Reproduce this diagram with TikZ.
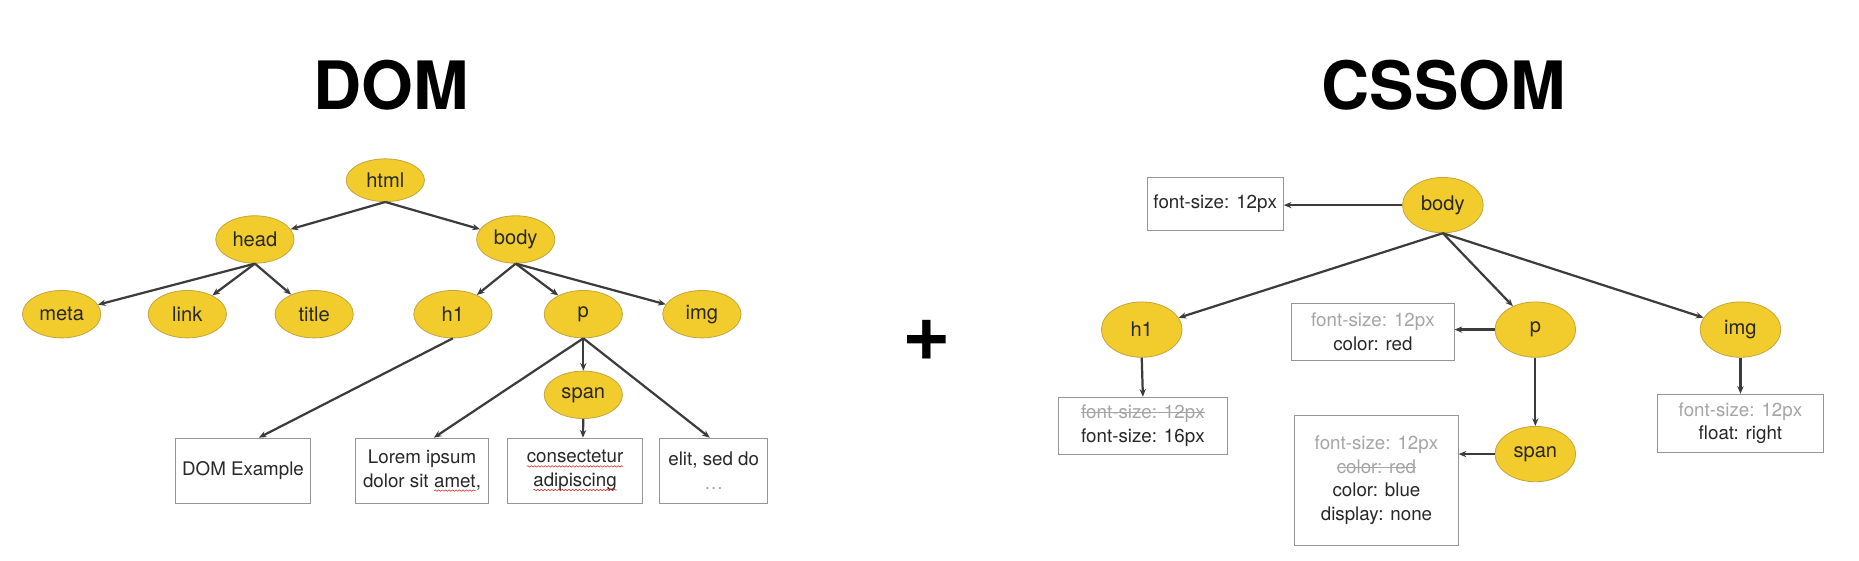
\documentclass[tikz,border=0pt]{standalone}
\usepackage{fontspec}
\setmainfont{TeX Gyre Heros}
\usetikzlibrary{arrows.meta,shapes.geometric,decorations.pathmorphing}
\definecolor{NodeClr}{RGB}{242,204,44}
\definecolor{NodeBorderClr}{RGB}{196,166,62}
\definecolor{LineClr}{RGB}{60,60,60}
\definecolor{BoxClr}{RGB}{150,150,150}
\definecolor{FadedClr}{RGB}{165,165,165}
\definecolor{TextClr}{RGB}{40,40,40}
\definecolor{SpellClr}{RGB}{220,40,40}
\newsavebox{\strikebox}
\newcommand{\faded}[1]{\textcolor{FadedClr}{#1}}
\newcommand{\overruled}[1]{\sbox{\strikebox}{\color{FadedClr}#1}\textcolor{FadedClr}{\rlap{\usebox{\strikebox}}\rule[0.3em]{\wd\strikebox}{0.6pt}}}
\newcommand{\spellwave}[1]{\tikz[baseline=(w.base)]{\node[inner sep=0pt,outer sep=0pt,draw=none,fill=none,text=TextClr,minimum size=0pt,shape=rectangle] (w) {#1};
  \draw[SpellClr,line width=0.4pt,-,decorate,decoration={snake,amplitude=0.5pt,segment length=2.5pt}] ([yshift=-2.5pt]w.base west) -- ([yshift=-2.5pt]w.base east);}}

\begin{document}
\begin{tikzpicture}[x=0.03cm,y=-0.03cm,
  domnode/.style={ellipse,draw=NodeBorderClr,fill=NodeClr,line width=0.6pt,
    minimum width=1.98cm,minimum height=1.2cm,inner sep=0pt,
    font=\fontsize{14.5}{16}\selectfont,text=TextClr},
  cssnode/.style={domnode,minimum width=2.04cm,minimum height=1.4cm},
  textbox/.style={draw=BoxClr,fill=white,line width=0.6pt,inner sep=0pt,
    align=center,font=\fontsize{13.5}{17}\selectfont,text=TextClr},
  edgeline/.style={draw=LineClr,line width=1.6pt,-{Stealth[length=5.5pt,width=4.5pt]}},
  heading/.style={font=\fontsize{48}{50}\selectfont\bfseries}]

\useasboundingbox (0,0) rectangle (1568,473);

\node[heading] (domtitle) at (330,72) {DOM};
\node[heading] (csstitle) at (1218,72) {CSSOM};
\node[font=\fontsize{60}{60}\selectfont\bfseries] (plus) at (782,287) {+};

\node[domnode,minimum height=1.08cm] (html) at (325,152) {html};
\node[domnode] (head) at (215,202) {head};
\node[domnode] (body) at (435,202) {body};
\node[domnode] (meta) at (52,265) {meta};
\node[domnode] (link) at (158,265) {link};
\node[domnode] (title) at (265,265) {title};
\node[domnode] (h1) at (382,265) {h1};
\node[domnode] (p) at (492,265) {p};
\node[domnode] (img) at (592,265) {img};
\node[domnode] (span) at (492,333) {span};

\node[textbox,minimum width=3.42cm,minimum height=1.65cm] (domex) at (205,397) {DOM Example};
\node[textbox,minimum width=3.36cm,minimum height=1.65cm] (lorem) at (356,397) {Lorem ipsum\\dolor sit \spellwave{amet},};
\node[textbox,minimum width=3.42cm,minimum height=1.65cm] (consec) at (485,397) {\spellwave{consectetur}\\\spellwave{adipiscing}};
\node[textbox,minimum width=2.73cm,minimum height=1.65cm] (elit) at (602,397) {elit, sed do\\\faded{\dots}};

\draw[edgeline] (html.south) -- (head);
\draw[edgeline] (html.south) -- (body);
\draw[edgeline] (head.south) -- (meta);
\draw[edgeline] (head.south) -- (link);
\draw[edgeline] (head.south) -- (title);
\draw[edgeline] (body.south) -- (h1);
\draw[edgeline] (body.south) -- (p);
\draw[edgeline] (body.south) -- (img);
\draw[edgeline] (h1.south) -- ([xshift=0.4cm]domex.north);
\draw[edgeline] (p.south) -- ([xshift=0.3cm]lorem.north);
\draw[edgeline] (p.south) -- (span.north);
\draw[edgeline] (span.south) -- ([xshift=0.2cm]consec.north);
\draw[edgeline] (p.south) -- ([xshift=-0.1cm]elit.north);

\node[cssnode] (cbody) at (1217,173) {body};
\node[cssnode] (ch1) at (963,278) {h1};
\node[cssnode] (cp) at (1295,278) {p};
\node[cssnode] (cimg) at (1468,278) {img};
\node[cssnode] (cspan) at (1295,383) {span};

\node[textbox,minimum width=3.45cm,minimum height=1.35cm] (fsbody) at (1025,172) {font-size: 12px};
\node[textbox,minimum width=4.11cm,minimum height=1.44cm] (fsp) at (1158,280) {\faded{font-size: 12px}\\color: red};
\node[textbox,minimum width=4.26cm,minimum height=1.44cm] (fsh1) at (964,359) {\overruled{font-size: 12px}\\font-size: 16px};
\node[textbox,minimum width=4.14cm,minimum height=3.3cm] (fsspan) at (1161,405) {\faded{font-size: 12px}\\\overruled{color: red}\\color: blue\\display: none};
\node[textbox,minimum width=4.2cm,minimum height=1.47cm] (fsimg) at (1468,357) {\faded{font-size: 12px}\\float: right};

\draw[edgeline] (cbody.west) -- (fsbody.east |- cbody.west);
\draw[edgeline] (cbody.south) -- (ch1);
\draw[edgeline] (cbody.south) -- (cp);
\draw[edgeline] (cbody.south) -- (cimg);
\draw[edgeline] (cp.west) -- (fsp.east |- cp.west);
\draw[edgeline] (cp.south) -- (cspan.north);
\draw[edgeline] (cspan.west) -- (fsspan.east |- cspan.west);
\draw[edgeline] (ch1.south) -- (fsh1.north);
\draw[edgeline] (cimg.south) -- (fsimg.north);

\end{tikzpicture}
\end{document}
